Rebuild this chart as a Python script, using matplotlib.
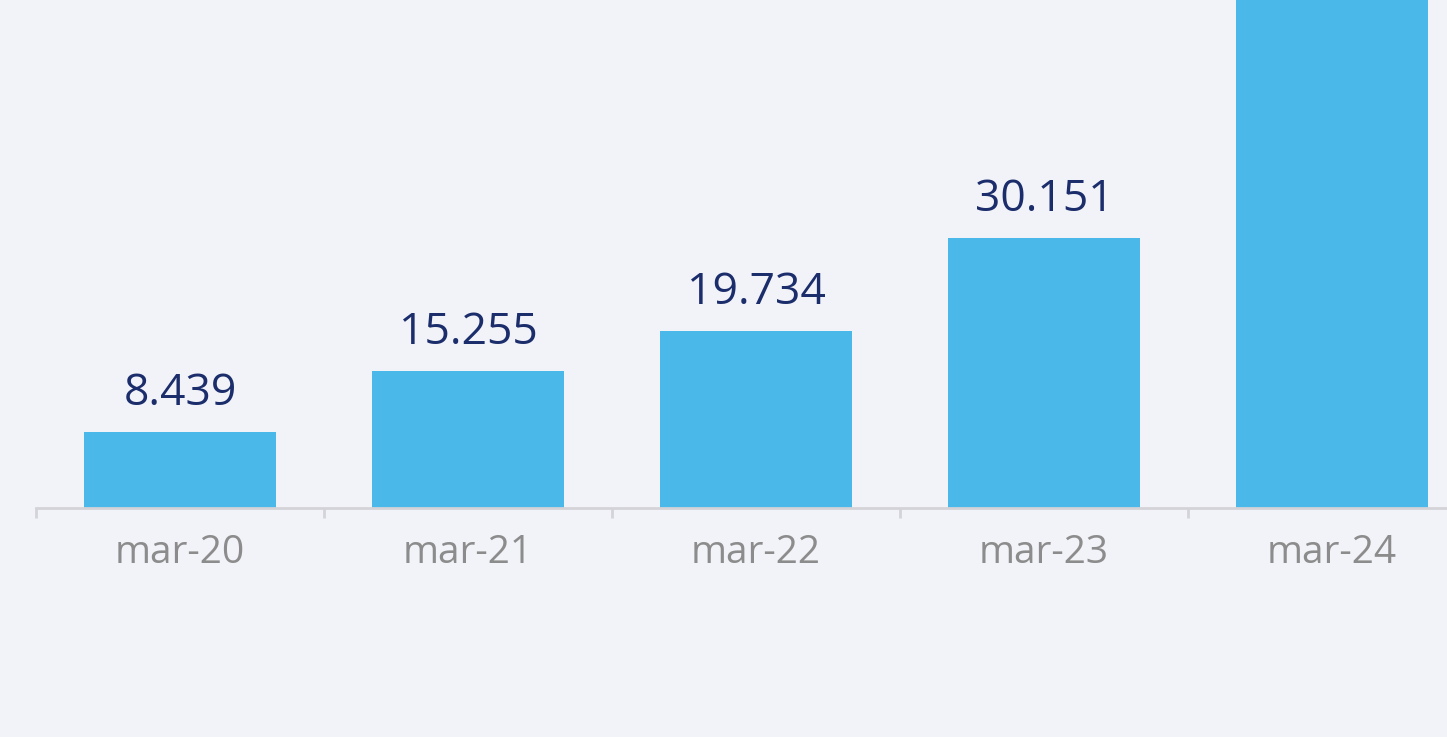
import numpy as np
import matplotlib.pyplot as plt

# Data
categories = ['mar-20', 'mar-21', 'mar-22', 'mar-23', 'mar-24']
values = [8.439, 15.255, 19.734, 30.151, 62.0]
labels = ['8.439', '15.255', '19.734', '30.151', '']

bg = '#f2f3f9'
bar_color = '#4ab8e8'
label_color = '#1b2d6b'

fig = plt.figure(figsize=(14.47, 7.37), dpi=100, facecolor=bg)
ax = fig.add_axes([36 / 1447, 229.5 / 737, 1 - 36 / 1447, 507.5 / 737])
ax.set_facecolor(bg)

x = np.arange(len(categories))
bars = ax.bar(x, values, width=0.667, color=bar_color, zorder=2)

for b, lab in zip(bars, labels):
    if lab:
        ax.annotate(lab, (b.get_x() + b.get_width() / 2, b.get_height()),
                    xytext=(0, 19.5), textcoords='offset points',
                    ha='center', va='baseline', fontsize=32,
                    family='Open Sans', color=label_color)

ax.set_xlim(-0.5, (1447 - 180) / 288)
ax.set_ylim(0, 507.5 / 8.95)

for s in ['top', 'right', 'left']:
    ax.spines[s].set_visible(False)
ax.spines['bottom'].set_color('#d4d4d8')
ax.spines['bottom'].set_linewidth(2)
ax.set_yticks([])

ax.set_xticks(x)
ax.set_xticklabels(categories, fontsize=28, family='Open Sans', color='#8c8c8c')
ax.tick_params(axis='x', which='major', length=0, pad=19)
ax.set_xticks(np.arange(-0.5, len(categories) - 1, 1), minor=True)
ax.tick_params(axis='x', which='minor', length=7, width=2, color='#d4d4d8')

fig.savefig('out.png', dpi=100, facecolor=bg)
